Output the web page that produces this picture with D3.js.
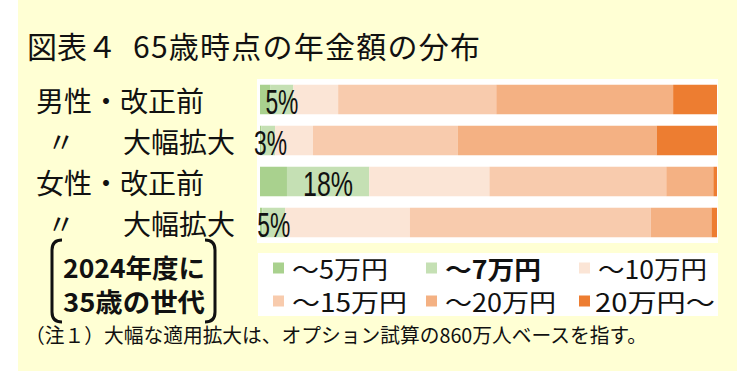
<!DOCTYPE html>
<html>
<head>
<meta charset="utf-8">
<script src="https://cdn.jsdelivr.net/npm/d3@7"></script>
<style>
  html, body { margin: 0; padding: 0; background: #fff; }
  svg { display: block; }
  text { font-family: "Noto Sans CJK JP", "Noto Sans", sans-serif; fill: #111; }
  .bar-label { font-family: "Liberation Sans Narrow", "Liberation Sans", sans-serif; }
</style>
</head>
<body>
<div id="chart"></div>
<script>
// ---- data ----
const rowLabels = ['男性・改正前', '大幅拡大', '女性・改正前', '大幅拡大'];
const rowDitto  = [false, true, false, true];
const seriesNames  = ['～5万円', '～7万円', '～10万円', '～15万円', '～20万円', '20万円～'];
const seriesColors = ['#a9d18e', '#c5e0b4', '#fbe5d6', '#f8cbad', '#f4b183', '#ed7d31'];
const seriesBold   = [false, true, false, false, false, false];
const under5  = [2.3, 0.3, 5.9, 0.5];
const under7  = [5, 3, 18, 5];
const under10 = [9.8, 8.3, 26.3, 27.3];
const under15 = [34.6, 31.7, 38.7, 52.7];
const under20 = [38.7, 43.5, 10.3, 13.3];
const over20  = [9.6, 13.2, 0.8, 1.2];
const barLabels = ['5%', '3%', '18%', '5%'];

const W = 753, H = 374;
const svg = d3.select('#chart').append('svg').attr('width', W).attr('height', H);

// background panel
svg.append('rect').attr('x', 18).attr('y', 0).attr('width', 719).attr('height', 371).attr('fill', '#ffffd4');

// title
svg.append('text').attr('x', 27).attr('y', 45).attr('dominant-baseline', 'central')
  .style('font-size', '30px').text('図表４');
svg.append('text').attr('x', 133).attr('y', 45).attr('dominant-baseline', 'central')
  .style('font-size', '30px').attr('textLength', 347).attr('lengthAdjust', 'spacing')
  .text('65歳時点の年金額の分布');

// plot area
const plot = { left: 257, right: 718, top: 79, bottom: 243 };
svg.append('rect').attr('x', plot.left).attr('y', plot.top)
  .attr('width', plot.right - plot.left).attr('height', plot.bottom - plot.top).attr('fill', '#fff');

const rows = rowLabels.map((name, i) => ({
  i, name,
  s0: under5[i], s1: under7[i], s2: under10[i], s3: under15[i], s4: under20[i], s5: over20[i]
}));
const keys = ['s0', 's1', 's2', 's3', 's4', 's5'];
const stacked = d3.stack().keys(keys)(rows);

const x = d3.scaleLinear().domain([0, 100]).range([260, 717]);
const y = d3.scaleBand().domain(d3.range(rows.length)).range([plot.top, plot.bottom])
  .paddingInner(0.28).paddingOuter(0.14);

svg.append('g').selectAll('g')
  .data(stacked)
  .enter().append('g')
  .attr('fill', (d, k) => seriesColors[k])
  .selectAll('rect')
  .data(d => d)
  .enter().append('rect')
  .attr('x', d => x(d[0]))
  .attr('y', d => y(d.data.i))
  .attr('width', d => x(d[1]) - x(d[0]))
  .attr('height', y.bandwidth());

// labels on the ~7万円 segment
const labelWidths = { 2: 33, 3: 50 };
svg.append('g').selectAll('text')
  .data(stacked[1])
  .enter().append('text')
  .attr('class', 'bar-label')
  .attr('x', d => Math.max(x((d[0] + d[1]) / 2), 254 + labelWidths[barLabels[d.data.i].length] / 2))
  .attr('y', d => y(d.data.i) + y.bandwidth() / 2 + 2)
  .attr('text-anchor', 'middle')
  .attr('dominant-baseline', 'central')
  .style('font-size', '35px')
  .attr('textLength', d => labelWidths[barLabels[d.data.i].length])
  .attr('lengthAdjust', 'spacingAndGlyphs')
  .text(d => barLabels[d.data.i]);

// row labels
const rowG = svg.append('g');
rows.forEach(r => {
  const cy = y(r.i) + y.bandwidth() / 2;
  if (rowDitto[r.i]) {
    rowG.append('text').attr('x', 61).attr('y', cy).attr('text-anchor', 'middle')
      .attr('dominant-baseline', 'central').style('font-size', '28px').text('〃');
  }
  rowG.append('text').attr('x', rowDitto[r.i] ? 123 : 36).attr('y', cy)
    .attr('dominant-baseline', 'central').style('font-size', '28px').text(r.name);
});

// legend
const legend = svg.append('g');
legend.append('rect').attr('x', 258).attr('y', 253).attr('width', 460).attr('height', 63).attr('fill', '#fff');
const legendTextW = [96, 96, 109, 115, 111, 120];
seriesNames.forEach((name, k) => {
  const col = k % 3, row = Math.floor(k / 3);
  const lx = 273 + col * 153, ly = 268 + row * 33;
  legend.append('rect').attr('x', lx).attr('y', ly - 5.5).attr('width', 11).attr('height', 11)
    .attr('fill', seriesColors[k]);
  legend.append('text').attr('x', lx + (k === 5 ? 16 : 19)).attr('y', ly)
    .attr('dominant-baseline', 'central')
    .style('font-size', '25px')
    .style('font-weight', seriesBold[k] ? 'bold' : 'normal')
    .attr('textLength', legendTextW[k]).attr('lengthAdjust', 'spacingAndGlyphs')
    .text(name);
});

// bracket note
const note = svg.append('g');
note.append('path')
  .attr('d', 'M62,240 Q52,240 52,250 L52,312 Q52,322 62,322')
  .attr('fill', 'none').attr('stroke', '#111').attr('stroke-width', 3);
note.append('path')
  .attr('d', 'M205,240 Q215,240 215,250 L215,312 Q215,322 205,322')
  .attr('fill', 'none').attr('stroke', '#111').attr('stroke-width', 3);
[['2024年度に', 266], ['35歳の世代', 300]].forEach(([t, cy]) => {
  note.append('text').attr('x', 63).attr('y', cy).attr('dominant-baseline', 'central')
    .style('font-size', '26px').style('font-weight', 'bold')
    .attr('textLength', 142).attr('lengthAdjust', 'spacingAndGlyphs').text(t);
});

// footnote
svg.append('text').attr('x', 25).attr('y', 334.5).attr('dominant-baseline', 'central')
  .style('font-size', '20px').attr('textLength', 622).attr('lengthAdjust', 'spacingAndGlyphs')
  .text('（注１）大幅な適用拡大は、オプション試算の860万人ベースを指す。');
</script>
</body>
</html>
